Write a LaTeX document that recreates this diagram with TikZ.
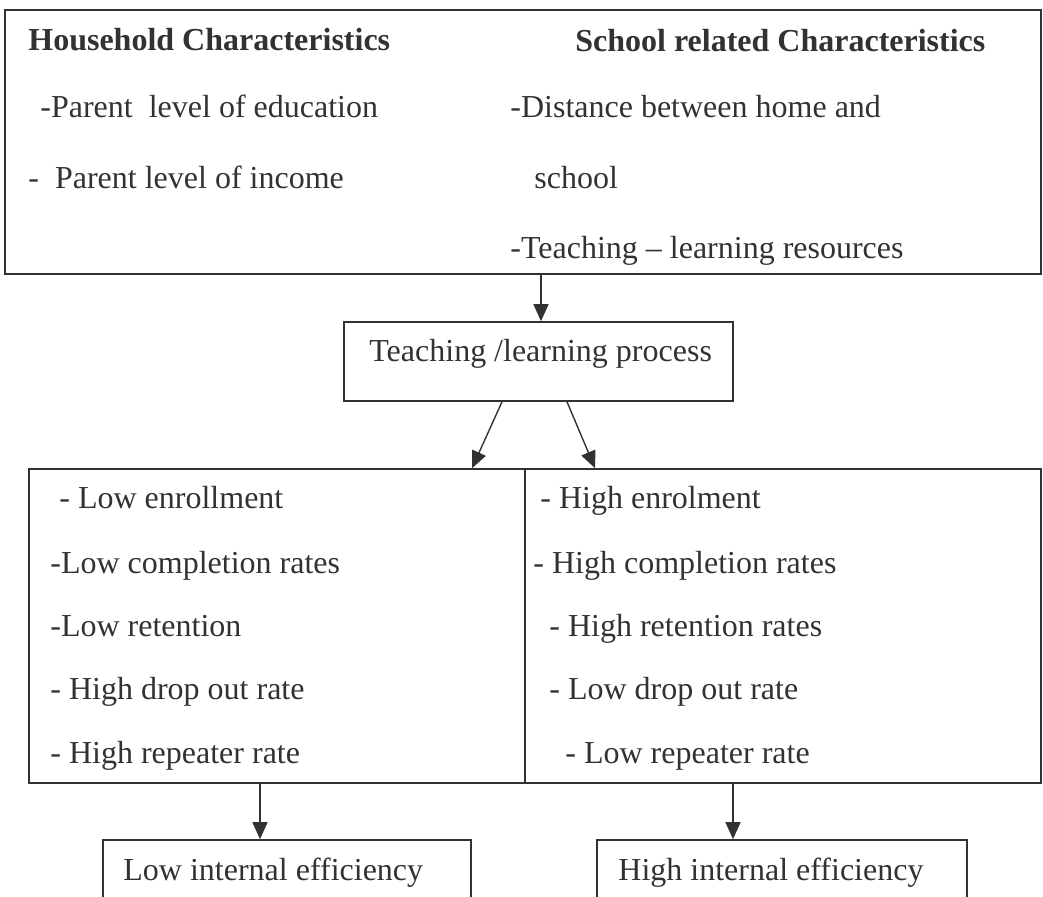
\documentclass[tikz,border=0pt]{standalone}
\usepackage{fontspec}
\setmainfont{Liberation Serif}
\usetikzlibrary{arrows.meta}
\definecolor{ink}{RGB}{50,50,50}
\tikzset{
  box/.style={draw=ink, line width=0.8pt, rectangle, inner sep=0pt},
  txt/.style={anchor=base west, inner sep=0pt, text=ink, font=\fontsize{16}{19}\selectfont},
  btxt/.style={txt, font=\fontsize{16}{19}\selectfont\bfseries},
  arr/.style={draw=ink, line width=0.7pt, -{Triangle[length=8.5pt,width=7.5pt]}}
}
\begin{document}
\begin{tikzpicture}[x=0.5pt,y=-0.5pt]
\useasboundingbox (0,0) rectangle (1043,897);
\clip (0,0) rectangle (1043,897);
% boxes
\node[box, minimum width=518pt, minimum height=132pt] (top) at (523,142) {};
\node[box, minimum width=194.5pt, minimum height=39.5pt] (proc) at (538.5,361.5) {};
\node[box, minimum width=248pt, minimum height=157pt] (midL) at (277,626) {};
\node[box, minimum width=258pt, minimum height=157pt] (midR) at (783,626) {};
\node[box, minimum width=184pt, minimum height=45pt] (low) at (287,885) {};
\node[box, minimum width=185pt, minimum height=45pt] (high) at (782,885) {};
% top box texts
\node[btxt] (h1) at (28,51) {Household Characteristics};
\node[txt] (h2) at (40,118) {-Parent\ \ level of education};
\node[txt] (h3) at (28,189) {-\ \ Parent level of income};
\node[btxt] (s1) at (575,52) {School related Characteristics};
\node[txt] (s2) at (510,118) {-Distance between home and};
\node[txt] (s3) at (534,189) {school};
\node[txt] (s4) at (510,259) {-Teaching -- learning resources};
% process
\node[txt] (p1) at (369,362) {Teaching /learning process};
% middle left
\node[txt] (l1) at (59,509) {- Low enrollment};
\node[txt] (l2) at (50,573) {-Low completion rates};
\node[txt] (l3) at (50,636) {-Low retention};
\node[txt] (l4) at (50,699) {- High drop out rate};
\node[txt] (l5) at (50,763) {- High repeater rate};
% middle right
\node[txt] (r1) at (540,509) {- High enrolment};
\node[txt] (r2) at (533,573) {- High completion rates};
\node[txt] (r3) at (549,636) {- High retention rates};
\node[txt] (r4) at (549,699) {- Low drop out rate};
\node[txt] (r5) at (565,763) {- Low repeater rate};
% bottom
\node[txt] (b1) at (123,880) {Low internal efficiency};
\node[txt] (b2) at (618,880) {High internal efficiency};
% arrow x positions
\coordinate (xa) at (541,0);
\coordinate (xd1s) at (502,0);
\coordinate (xd1e) at (472,0);
\coordinate (xd2s) at (567,0);
\coordinate (xd2e) at (595,0);
\coordinate (xb1) at (260,0);
\coordinate (xb2) at (733,0);
% connectors
\draw[arr] (top.south -| xa) -- (proc.north -| xa);
\draw[arr] (proc.south -| xd1s) -- (midL.north -| xd1e);
\draw[arr] (proc.south -| xd2s) -- (midR.north -| xd2e);
\draw[arr] (midL.south -| xb1) -- (low.north -| xb1);
\draw[arr] (midR.south -| xb2) -- (high.north -| xb2);
\end{tikzpicture}
\end{document}
